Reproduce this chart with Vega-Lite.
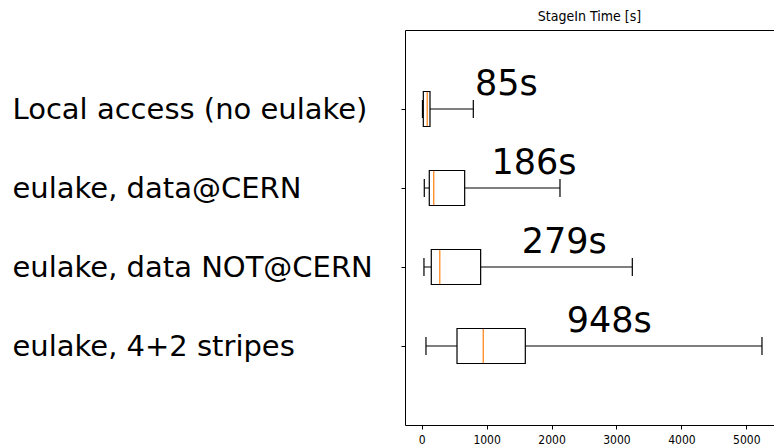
{
  "$schema": "https://vega.github.io/schema/vega-lite/v6.json",
  "autosize": "none",
  "padding": {"left": 405, "top": 30, "right": 0, "bottom": 23},
  "width": 371,
  "height": 395,
  "background": "white",
  "title": {
    "text": "StageIn Time [s]",
    "font": "DejaVu Sans Condensed, Liberation Sans Narrow, DejaVu Sans",
    "fontSize": 14,
    "fontWeight": "normal",
    "color": "black",
    "anchor": "middle",
    "dx": -1,
    "baseline": "alphabetic",
    "offset": -5
  },
  "config": {
    "view": {"stroke": "black", "strokeWidth": 1},
    "axis": {"grid": false, "domain": false, "tickColor": "black", "labelColor": "black", "tickSize": 4}
  },
  "data": {
    "values": [
      {"cat": "Local access (no eulake)", "lo": 12, "q1": 25, "med": 85, "q3": 128, "hi": 795, "label": "85s", "lx": 821},
      {"cat": "eulake, data@CERN", "lo": 40, "q1": 117, "med": 186, "q3": 662, "hi": 2130, "label": "186s", "lx": 1075},
      {"cat": "eulake, data NOT@CERN", "lo": 35, "q1": 148, "med": 279, "q3": 908, "hi": 3244, "label": "279s", "lx": 1540},
      {"cat": "eulake, 4+2 stripes", "lo": 66, "q1": 544, "med": 948, "q3": 1596, "hi": 5241, "label": "948s", "lx": 2233}
    ]
  },
  "encoding": {
    "y": {
      "field": "cat",
      "type": "nominal",
      "sort": null,
      "scale": {"type": "point", "padding": 1},
      "axis": {
        "title": null,
        "labelAlign": "left",
        "labelPadding": 389,
        "labelLimit": 500,
        "labelFont": "DejaVu Sans",
        "labelFontSize": 29,
        "labelBaseline": "middle"
      }
    }
  },
  "layer": [
    {
      "mark": {"type": "rule", "color": "black", "strokeWidth": 1.2},
      "encoding": {
        "x": {
          "field": "lo",
          "type": "quantitative",
          "scale": {"domain": [-257, 5457], "nice": false, "zero": false},
          "axis": {
            "title": null,
            "values": [0, 1000, 2000, 3000, 4000, 5000],
            "format": "d",
            "labelFont": "DejaVu Sans Condensed, Liberation Sans Narrow, DejaVu Sans",
            "labelFontSize": 12,
            "labelPadding": 5,
            "labelFlush": false
          }
        },
        "x2": {"field": "hi"}
      }
    },
    {
      "mark": {"type": "tick", "color": "black", "size": 18, "thickness": 1.2, "opacity": 1},
      "encoding": {"x": {"field": "lo", "type": "quantitative"}}
    },
    {
      "mark": {"type": "tick", "color": "black", "size": 18, "thickness": 1.2, "opacity": 1},
      "encoding": {"x": {"field": "hi", "type": "quantitative"}}
    },
    {
      "mark": {"type": "bar", "fill": "white", "stroke": "black", "strokeWidth": 1.2, "size": 35, "opacity": 1},
      "encoding": {
        "x": {"field": "q1", "type": "quantitative"},
        "x2": {"field": "q3"}
      }
    },
    {
      "mark": {"type": "tick", "color": "#ff7f0e", "size": 34, "thickness": 1.2, "opacity": 1},
      "encoding": {"x": {"field": "med", "type": "quantitative"}}
    },
    {
      "mark": {"type": "text", "align": "left", "baseline": "alphabetic", "dy": -14, "font": "DejaVu Sans", "fontSize": 35, "color": "black"},
      "encoding": {
        "x": {"field": "lx", "type": "quantitative"},
        "text": {"field": "label"}
      }
    }
  ]
}
